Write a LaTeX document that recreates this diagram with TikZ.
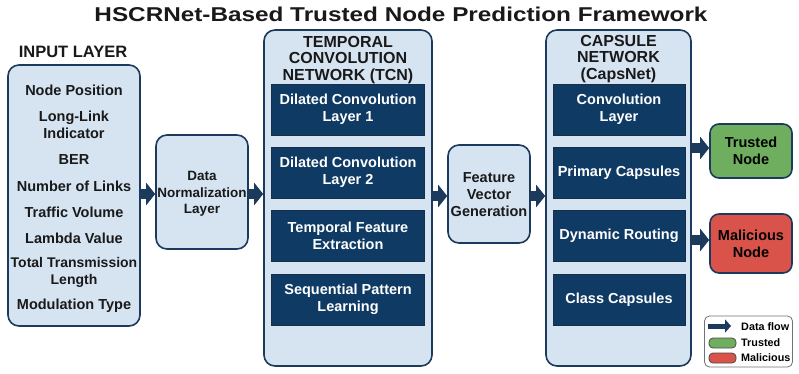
\documentclass[tikz,border=0pt]{standalone}
\usepackage{fontspec}
\setmainfont{Liberation Sans}
\usetikzlibrary{arrows.meta}
\definecolor{navy}{HTML}{1B3A5C}
\definecolor{lightfill}{HTML}{D6E4F2}
\definecolor{darkbox}{HTML}{0F3A64}
\definecolor{trustgreen}{HTML}{6FAE5F}
\definecolor{malred}{HTML}{D9534A}
\begin{document}
\begin{tikzpicture}[x=1pt,y=-1pt,
  panel/.style={draw=navy,line width=1.6pt,fill=lightfill,rounded corners=11pt,inner sep=0pt},
  inner/.style={draw=navy!80!black,line width=1pt,fill=darkbox,text=white,inner sep=0pt,
     minimum height=51pt,align=center,font=\fontsize{14.5}{17}\selectfont\bfseries},
  item/.style={align=center,inner sep=0pt,font=\fontsize{14.5}{17}\selectfont\bfseries,text=black!90},
  head/.style={align=center,inner sep=0pt,font=\fontsize{16}{16.5}\selectfont\bfseries,text=black!90},
  flow/.style={draw=navy,line width=10pt,-{Triangle[length=9pt,width=22pt]},shorten <=0pt},
  outbox/.style={draw=navy,line width=1.6pt,rounded corners=9pt,inner sep=0pt,
     minimum width=82pt,align=center,font=\fontsize{14.5}{17}\selectfont\bfseries},
  legtext/.style={anchor=west,inner sep=0pt,font=\fontsize{10.8}{11}\selectfont\bfseries}
]
\useasboundingbox (0,0) rectangle (799,373);
\fill[white] (0,0) rectangle (799,373);

% title
\node[inner sep=0pt,font=\fontsize{20}{22}\selectfont\bfseries,text=black!90] (title) at (401,14)
  {\scalebox{1.215}[1]{HSCRNet-Based Trusted Node Prediction Framework}};

% input layer
\node[head,font=\fontsize{16.5}{17}\selectfont\bfseries] (inhead) at (73,52) {INPUT LAYER};
\node[panel,minimum width=132pt,minimum height=261pt] (input) at (74,195.5) {};
\node[item] (i1) at (74,90) {Node Position};
\node[item] (i2) at (74,124.5) {Long-Link\\Indicator};
\node[item] (i3) at (74,160) {BER};
\node[item] (i4) at (74,186) {Number of Links};
\node[item] (i5) at (74,212) {Traffic Volume};
\node[item] (i6) at (74,238) {Lambda Value};
\node[item,font=\fontsize{14}{17}\selectfont\bfseries] (i7) at (74,272.5) {Total Transmission\\Length};
\node[item] (i8) at (74,306) {Modulation Type};

% normalization
\node[panel,minimum width=92pt,minimum height=114pt] (norm) at (202,192) {};
\node[item,font=\fontsize{13.5}{16.5}\selectfont\bfseries] (normtext) at (202,194) {Data\\Normalization\\Layer};

% TCN
\node[panel,minimum width=168pt,minimum height=336pt] (tcn) at (348,198) {};
\node[head] (tcnhead) at (348,60) {TEMPORAL\\CONVOLUTION\\NETWORK (TCN)};
\node[inner,minimum width=153pt] (t1) at (348,109.5) {Dilated Convolution\\Layer 1};
\node[inner,minimum width=153pt] (t2) at (348,172.5) {Dilated Convolution\\Layer 2};
\node[inner,minimum width=153pt] (t3) at (348,235.5) {Temporal Feature\\Extraction};
\node[inner,minimum width=153pt] (t4) at (348,299.5) {Sequential Pattern\\Learning};

% feature vector
\node[panel,minimum width=82pt,minimum height=98pt] (feat) at (489,194) {};
\node[item] (feattext) at (489,195) {Feature\\Vector\\Generation};

% CapsNet
\node[panel,minimum width=145pt,minimum height=336pt] (caps) at (618.5,198) {};
\node[head] (capshead) at (618.5,59) {CAPSULE\\NETWORK\\(CapsNet)};
\node[inner,minimum width=132pt] (c1) at (619,109.5) {Convolution\\Layer};
\node[inner,minimum width=132pt] (c2) at (619,172.5) {Primary Capsules};
\node[inner,minimum width=132pt] (c3) at (619,235.5) {Dynamic Routing};
\node[inner,minimum width=132pt] (c4) at (619,299.5) {Class Capsules};

% outputs
\node[outbox,fill=trustgreen,minimum height=54pt] (trusted) at (751,151) {Trusted\\Node};
\node[outbox,fill=malred,minimum height=59pt] (mal) at (751,243.5) {Malicious\\Node};

% flows
\draw[flow] (input.east |- 0,194) -- (norm.west |- 0,194);
\draw[flow] (norm.east |- 0,194) -- (tcn.west |- 0,194);
\draw[flow] (tcn.east |- 0,196) -- (feat.west |- 0,196);
\draw[flow] (feat.east |- 0,196) -- (caps.west |- 0,196);
\draw[flow] (caps.east |- 0,148) -- (trusted.west |- 0,148);
\draw[flow] (caps.east |- 0,240) -- (mal.west |- 0,240);

% legend
\node[draw=black!55,line width=0.8pt,fill=white,rounded corners=5pt,minimum width=88pt,minimum height=51pt,inner sep=0pt] (legend) at (748.5,341.5) {};
\coordinate (lga) at (708,326);
\coordinate (lgb) at (731,326);
\draw[draw=navy,line width=5pt,-{Triangle[length=6pt,width=13pt]}] (lga) -- (lgb);
\node[draw=black!70,line width=0.8pt,fill=trustgreen,rounded corners=4pt,minimum width=27pt,minimum height=10pt,inner sep=0pt] (lgg) at (722.5,343) {};
\node[draw=black!70,line width=0.8pt,fill=malred,rounded corners=4pt,minimum width=27pt,minimum height=10pt,inner sep=0pt] (lgr) at (722.5,358) {};
\node[legtext] (l1) at (741,327) {Data flow};
\node[legtext] (l2) at (741,343) {Trusted};
\node[legtext] (l3) at (741,358) {Malicious};
\end{tikzpicture}
\end{document}
